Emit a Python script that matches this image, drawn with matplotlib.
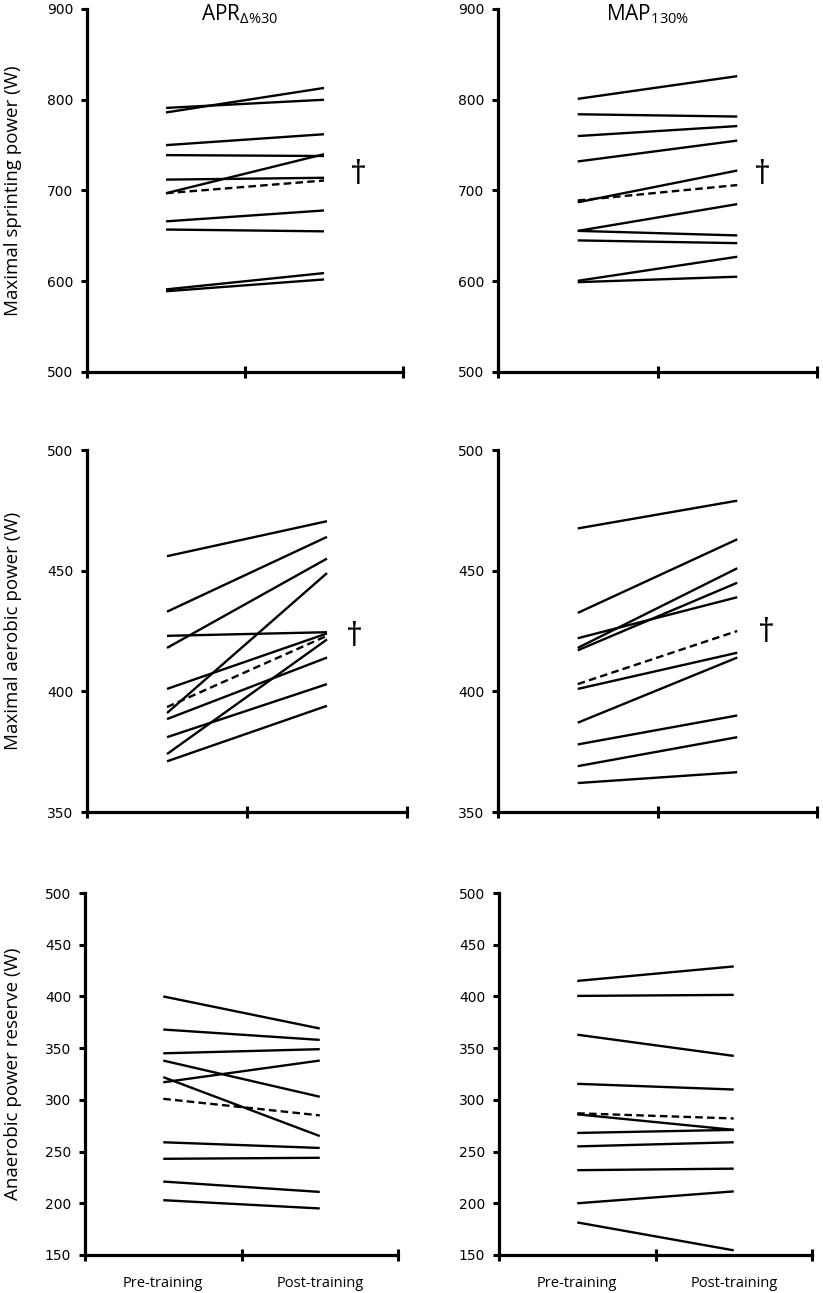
import matplotlib
matplotlib.use("Agg")
import matplotlib.pyplot as plt

W, H = 823, 1293

# ---- data ----
conditions = ["APR$_{\\Delta\\%30}$", "MAP$_{130\\%}$"]
xlabels = ["Pre-training", "Post-training"]
ylabels = ["Maximal sprinting power (W)", "Maximal aerobic power (W)", "Anaerobic power reserve (W)"]

sprint_apr_pre = [791, 786, 750, 739, 712, 697, 666, 657, 591, 589]
sprint_apr_post = [800, 813, 762, 738, 714, 740, 678, 655, 609, 602]
sprint_apr_mean = [697, 711]

sprint_map_pre = [801, 784, 760, 732, 687, 655.5, 655.5, 645, 600.5, 599]
sprint_map_post = [826, 781.5, 771, 755, 722, 685, 650.5, 642, 627, 605]
sprint_map_mean = [689, 706]

aer_apr_pre = [456, 433, 418, 423, 391, 401, 388.5, 381, 374, 371]
aer_apr_post = [470.5, 464, 455, 424.5, 449, 424, 414, 403, 421.5, 394]
aer_apr_mean = [393.5, 423]

aer_map_pre = [467.5, 432.5, 422, 418, 417, 401, 387, 378, 369, 362]
aer_map_post = [479, 463, 439, 451, 445, 416, 414, 390, 381, 366.5]
aer_map_mean = [403, 425]

apr_apr_pre = [400, 368, 345, 338, 317, 322, 259, 243, 221, 203]
apr_apr_post = [369, 358, 349, 303, 338, 265, 253.5, 244, 211, 195]
apr_apr_mean = [301, 285]

apr_map_pre = [415, 400.5, 363, 315.5, 286, 268, 255, 232, 200, 181.5]
apr_map_post = [429, 401.5, 342.5, 310, 271, 271, 259, 233.5, 211.5, 154.5]
apr_map_mean = [287, 282]

yticks_sprint = [500, 600, 700, 800, 900]
yticks_aer = [350, 400, 450, 500]
yticks_apr = [150, 200, 250, 300, 350, 400, 450, 500]

plt.rcParams['mathtext.fontset'] = 'custom'
plt.rcParams['mathtext.rm'] = 'Open Sans'
plt.rcParams['mathtext.it'] = 'Open Sans'
plt.rcParams['mathtext.default'] = 'regular'

fig = plt.figure(figsize=(W / 100, H / 100), dpi=100)


def rect(l, r, t, b):
    return [l / W, 1 - b / H, (r - l) / W, (b - t) / H]


panels = [
    (rect(87, 403, 9, 372), sprint_apr_pre, sprint_apr_post, sprint_apr_mean, yticks_sprint, ylabels[0], False, (1.72, 716)),
    (rect(498, 817, 9, 372), sprint_map_pre, sprint_map_post, sprint_map_mean, yticks_sprint, None, False, (1.66, 716)),
    (rect(87, 407, 450, 812), aer_apr_pre, aer_apr_post, aer_apr_mean, yticks_aer, ylabels[1], False, (1.67, 422.5)),
    (rect(498, 817, 450, 812), aer_map_pre, aer_map_post, aer_map_mean, yticks_aer, None, False, (1.68, 424)),
    (rect(85, 398, 893, 1255), apr_apr_pre, apr_apr_post, apr_apr_mean, yticks_apr, ylabels[2], True, None),
    (rect(499, 812, 893, 1255), apr_map_pre, apr_map_post, apr_map_mean, yticks_apr, None, True, None),
]

for (r, pre, post, mean, yt, yl, showx, dpos) in panels:
    ax = fig.add_axes(r)
    for a, b in zip(pre, post):
        ax.plot([0.5, 1.5], [a, b], color='black', lw=1.7, solid_capstyle='butt')
    ax.plot([0.5, 1.5], mean, color='black', lw=1.7, linestyle=(0, (3.2, 1.8)), dash_capstyle='butt')
    ax.set_xlim(0, 2)
    ax.set_ylim(yt[0], yt[-1])
    ax.set_yticks(yt)
    ax.set_xticks([0, 1, 2])
    ax.set_xticklabels(['', '', ''])
    ax.tick_params(axis='y', direction='out', length=4, width=2.2, pad=6, labelsize=10)
    ax.tick_params(axis='x', which='major', direction='inout', length=8, width=2.2)
    if showx:
        ax.set_xticks([0.5, 1.5], minor=True)
        ax.set_xticklabels(xlabels, minor=True, fontfamily='Open Sans', fontsize=10.5)
        ax.tick_params(axis='x', which='minor', length=0, pad=15)
    for s in ['top', 'right']:
        ax.spines[s].set_visible(False)
    for s in ['left', 'bottom']:
        ax.spines[s].set_linewidth(2.3)
    if yl:
        ax.set_ylabel(yl, fontfamily='Open Sans', fontsize=13.5)
        ax.yaxis.set_label_coords(-(r[0] * W - 22) / (r[2] * W), 0.5)
    if dpos:
        ax.text(dpos[0], dpos[1], '\u2020', fontfamily='Open Sans', fontsize=24,
                ha='center', va='center')

fig.text(240 / W, 1 - 2 / H, conditions[0], fontfamily='Open Sans', fontsize=15, ha='center', va='top')
fig.text(648 / W, 1 - 2 / H, conditions[1], fontfamily='Open Sans', fontsize=15, ha='center', va='top')

fig.savefig('out.png', dpi=100)
